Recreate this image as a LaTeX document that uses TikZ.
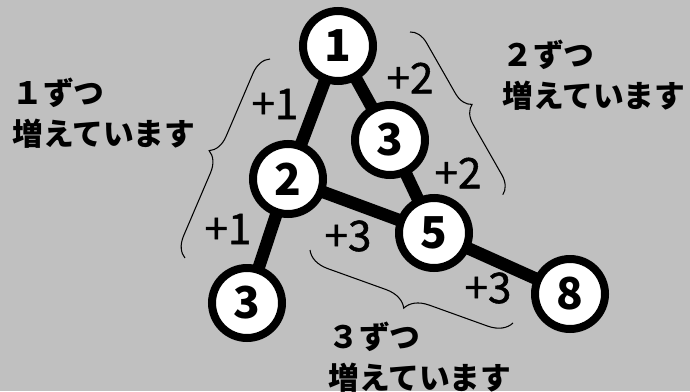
\documentclass[tikz,border=0pt]{standalone}
\usepackage{fontspec}
\setmainfont{Noto Sans CJK JP}
\newfontfamily\jpfont{Noto Sans CJK JP}
\newfontfamily\pasofont{Noto Sans CJK JP}[FakeBold=1.2]
\usetikzlibrary{positioning,decorations.pathreplacing}
\definecolor{fondo}{RGB}{192,192,192}

\begin{document}
\begin{tikzpicture}[
numero/.style={circle, draw=black, fill=white, line width=0.16cm, minimum size=1.4cm, inner sep=0pt, outer sep=0pt, font=\fontsize{25}{25}\selectfont\bfseries},
paso/.style={inner sep=0pt, font=\pasofont\fontsize{24}{24}\selectfont},
nota/.style={anchor=west, align=left, inner sep=0pt, font=\jpfont\bfseries\fontsize{17.5}{23.3}\selectfont},
llave/.style={decorate, decoration={brace, amplitude=#1}, line width=0.6pt},
union/.style={line width=0.25cm},
on grid,
]
\useasboundingbox (0,0) rectangle (13.8,-7.82);
\fill[fondo] (0,0) rectangle (13.8,-7.82);

%Nodes
\node[numero]    (num_1)     at (6.76,-0.92)                       {1};
\node[numero]    (num_2)     [below left=2.66cm and 1cm of num_1]   {2};
\node[numero]    (num_3_b)   [below left=2.48cm and 0.82cm of num_2] {3};
\node[numero]    (num_3_a)   [below right=1.88cm and 1.04cm of num_1] {3};
\node[numero]    (num_5)     [below right=1.86cm and 0.88cm of num_3_a] {5};
\node[numero]    (num_8)     [below right=1.22cm and 2.72cm of num_5] {8};

\node[paso]      (paso_1_a)  at (5.5,-2.08)    {+1};
\node[paso]      (paso_1_b)  at (4.56,-4.58)   {+1};
\node[paso]      (paso_2_a)  at (8.2,-1.56)    {+2};
\node[paso]      (paso_2_b)  at (9.16,-3.46)   {+2};
\node[paso]      (paso_3_a)  at (6.96,-4.72)   {+3};
\node[paso]      (paso_3_b)  at (9.76,-5.76)   {+3};

\node[nota]      (nota_1)    at (0.24,-2.27)   {１ずつ\\増えています};
\node[nota]      (nota_2)    at (10.04,-1.5)   {２ずつ\\増えています};
\node[nota]      (nota_3)    at (6.56,-7.15)   {３ずつ\\増えています};

\coordinate (llave_1_ini) at (3.7,-5.16);
\coordinate (llave_1_fin) at (5.4,-1.18);
\coordinate (llave_2_ini) at (8.2,-0.64);
\coordinate (llave_2_fin) at (10.06,-3.9);
\coordinate (llave_3_ini) at (10.26,-6.46);
\coordinate (llave_3_fin) at (6.2,-5.0);

%Lines
\draw[union] (num_1) -- (num_2);
\draw[union] (num_2) -- (num_3_b);
\draw[union] (num_1) -- (num_3_a);
\draw[union] (num_3_a) -- (num_5);
\draw[union] (num_2) -- (num_5);
\draw[union] (num_5) -- (num_8);

%Braces
\draw[llave=0.4cm]  (llave_1_ini) -- (llave_1_fin);
\draw[llave=0.36cm] (llave_2_ini) -- (llave_2_fin);
\draw[llave=0.46cm] (llave_3_ini) -- (llave_3_fin);

\end{tikzpicture}
\end{document}
